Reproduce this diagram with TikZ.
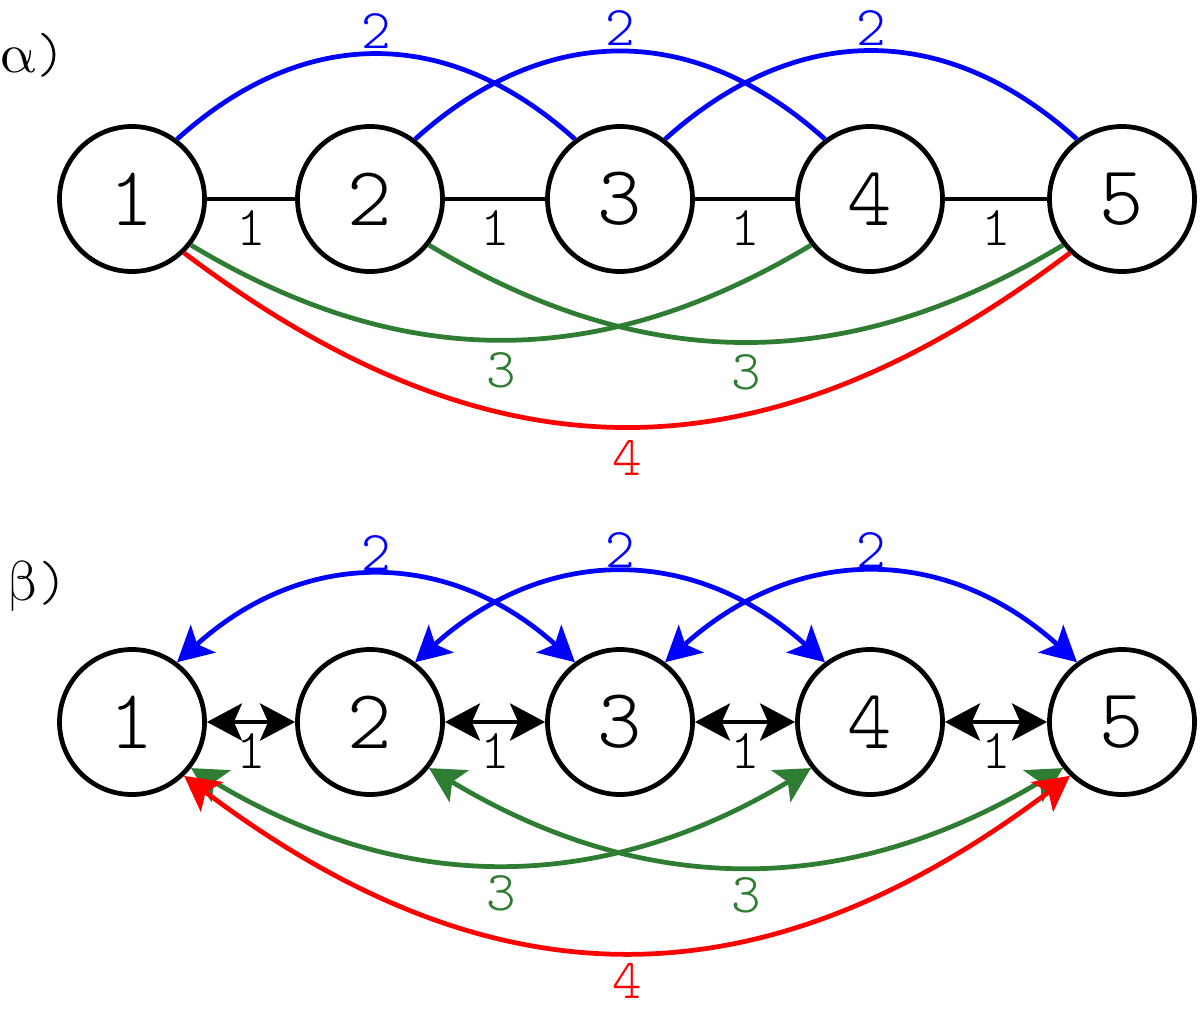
\documentclass[tikz,border=0pt]{standalone}
\usepackage{fontspec}
\usepackage{unicode-math}
\newfontfamily\lightmono{lmmonolt10-regular.otf}
\usetikzlibrary{arrows.meta}
\definecolor{arcgreen}{RGB}{46,125,50}
\tikzset{
	vertex/.style={circle,draw,minimum size=2.9cm,inner sep=0pt,font=\fontsize{48}{52}\selectfont\lightmono},
	wlab/.style={inner sep=0pt,font=\fontsize{32}{36}\selectfont\lightmono},
}
\begin{document}
\begin{tikzpicture}[>={Stealth[length=0.7cm,width=0.74cm,inset=0.16cm]}, line width=0.095cm]
\useasboundingbox (0,0) rectangle (24,-20.38);

% vertices of both graphs
\foreach \i/\x in {1/2.64,2/7.4,3/12.4,4/17.4,5/22.44} {
	\node[vertex] (a\i) at (\x,-3.98) {\i};
	\node[vertex] (b\i) at (\x,-14.44) {\i};
}
\node[wlab] (ta) at (0.66,-1.1) {$\symup{\alpha}$)};
\node[wlab] (tb) at (0.76,-11.72) {$\symup{\beta}$)};

% weight 1
\foreach \i/\j in {1/2,2/3,3/4,4/5} {
	\draw (a\i) -- node[wlab,yshift=-0.58cm]{1} (a\j);
	\draw[<->] (b\i) -- node[wlab,yshift=-0.58cm]{1} (b\j);
}

% weight 2
\foreach \i/\j in {1/3,2/4,3/5} {
	\draw[blue] (a\i.53) to[out=42,in=138,looseness=1.1] node[wlab,yshift=0.46cm]{2} (a\j.127);
	\draw[blue,<->] (b\i.53) to[out=42,in=138,looseness=1.1] node[wlab,yshift=0.48cm]{2} (b\j.127);
}

% weight 3
\foreach \i/\j in {1/4,2/5} {
	\draw[arcgreen] (a\i.-38) to[out=-31,in=-149,looseness=1.02] node[wlab,yshift=-0.6cm]{3} (a\j.-142);
	\draw[arcgreen,<->] (b\i.-38) to[out=-31,in=-149,looseness=1.02] node[wlab,yshift=-0.6cm]{3} (b\j.-142);
}

% weight 4
\draw[red] (a1.-46) to[out=-37,in=-143,looseness=1.12] node[wlab,yshift=-0.6cm]{4} (a5.-134);
\draw[red,<->] (b1.-46) to[out=-37,in=-143,looseness=1.12] node[wlab,yshift=-0.6cm]{4} (b5.-134);
\end{tikzpicture}
\end{document}
